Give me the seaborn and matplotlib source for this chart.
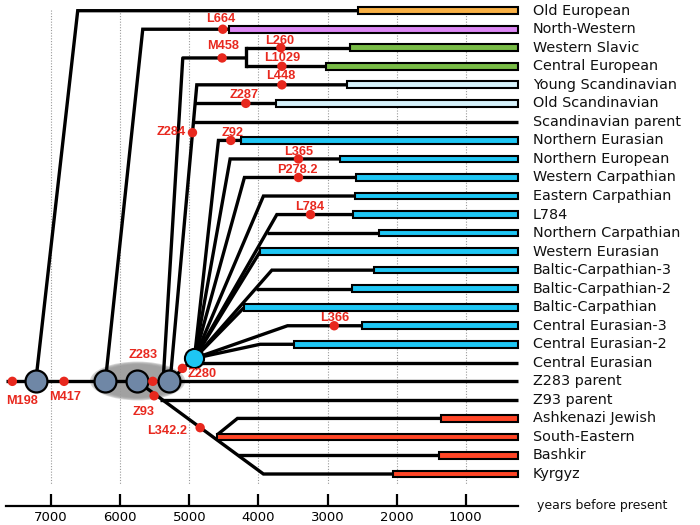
import matplotlib
matplotlib.use("Agg")
import matplotlib.pyplot as plt
from matplotlib.patches import Ellipse
import seaborn as sns
import pandas as pd

# ---------------- data ----------------
clades = ["Old European", "North-Western", "Western Slavic", "Central European",
          "Young Scandinavian", "Old Scandinavian", "Scandinavian parent",
          "Northern Eurasian", "Northern European", "Western Carpathian",
          "Eastern Carpathian", "L784", "Northern Carpathian", "Western Eurasian",
          "Baltic-Carpathian-3", "Baltic-Carpathian-2", "Baltic-Carpathian",
          "Central Eurasian-3", "Central Eurasian-2", "Central Eurasian",
          "Z283 parent", "Z93 parent", "Ashkenazi Jewish", "South-Eastern",
          "Bashkir", "Kyrgyz"]
# origin of each branch (year, row) -> kink year on its own row
branch_from_year = [7221, 6214, 4177, 4177, 5277, 4915, 4939,
                    4926, 4926, 4926, 4926, 4926, 3873, 4926,
                    4926, 4032, 4926, 4926, 4926, 4926,
                    7656, 5422, 4601, 4601, 4289, 5751]
branch_from_row = [20, 20, 2, 3, 20, 5, 6,
                   18.76, 18.76, 18.76, 18.76, 18.76, 12, 18.76,
                   18.76, 15, 18.76, 18.76, 18.76, 18.76,
                   20, 21, 22.9, 23, 24, 20]
branch_kink_year = [6614, 5673, 4177, 4177, 4891, 4915, 4939,
                    4578, 4409, 4202, 3927, 3733, 3873, 3975,
                    3805, 4032, 4202, 3579, 3975, 4926,
                    7656, 5422, 4303, 4601, 4289, 3927]
bar_start = [2560, 4419, 2672, 3019, 2720, 3747, None,
             4254, 2816, 2585, 2599, 2624, 2262, 3975,
             2324, 2647, 4202, 2502, 3492, None,
             None, None, 1354, 4601, 1383, 2053]
bar_colors = ["#f9b044", "#dd88f5", "#78bb46", "#78bb46", "#d6f2fb", "#d6f2fb", None,
              "#1ec6f4", "#1ec6f4", "#1ec6f4", "#1ec6f4", "#1ec6f4", "#1ec6f4", "#1ec6f4",
              "#1ec6f4", "#1ec6f4", "#1ec6f4", "#1ec6f4", "#1ec6f4", None,
              None, None, "#ff4526", "#ff4526", "#ff4526", "#ff4526"]
end_year = 244

# M458 clade connector (from node, to split)
m458_from = (5379, 20)
m458_to = (5094, 2.55)
m458_split_year = 4177
# link between Z283 node and Z280 node
z280_link = [(5292, 20), (4926, 18.76)]

# ancestral nodes
node_years = [7221, 6214, 5751, 5292]
node_rows = [20, 20, 20, 20]
z280_node = (4926, 18.76)

# mutations (red dots) and their labels
mut_names = ["M198", "M417", "Z283", "Z93", "Z280", "L342.2", "Z284", "L664",
             "M458", "L260", "L1029", "L448", "Z287", "Z92", "L365", "P278.2",
             "L784", "L366"]
mut_years = [7560, 6812, 5528, 5509, 5099, 4843, 4954, 4515,
             4525, 3675, 3660, 3660, 4182, 4399, 3420, 3420, 3246, 2903]
mut_rows = [20, 20, 20, 20.78, 19.3, 22.5, 6.58, 1,
            2.55, 2, 3, 4, 5, 7, 8, 9, 11, 17]
lab_years = [7413, 6797, 5673, 5657, 4818, 5027, 5050, 4543,
             4514, 3685, 3660, 3670, 4202, 4375, 3420, 3429, 3251, 2899]
lab_rows = [21.06, 20.83, 18.58, 21.64, 19.62, 22.68, 6.56, 0.46,
            1.89, 1.62, 2.57, 3.54, 4.55, 6.6, 7.64, 8.6, 10.61, 16.57]
lab_ha = ["center", "center", "center", "center", "center", "right", "right", "center",
          "center", "center", "center", "center", "center", "center", "center", "center",
          "center", "center"]

tick_years = [7000, 6000, 5000, 4000, 3000, 2000, 1000]
x_label = "years before present"

# ---------------- drawing ----------------
sns.set_theme(style="white")
plt.rcParams["font.family"] = ["DejaVu Sans"]

fig = plt.figure(figsize=(7, 5.25), dpi=100)
ax = fig.add_axes([5.7 / 700, 1 - 505.7 / 525, 512.3 / 700, 505.7 / 525])
ax.set_xlim(7656, end_year)
ax.set_ylim(26.71, -0.577)

LW = 2.4
RED = "#e8281e"

# gridlines
ax.vlines(tick_years, -0.05, 25.6, colors="#9a9a9a", linestyles=(0, (1, 1.5)),
          linewidth=0.8, zorder=1)

# shaded ellipse around the Z283 nodes
for k, sc in enumerate([1.08, 1.04, 1.0, 0.96, 0.92]):
    ax.add_patch(Ellipse((5748, 19.98), 1274 * sc, 1.94 * sc, facecolor="#9a9a9a",
                         edgecolor="none", alpha=0.4, zorder=1.5))

# branches
for i, name in enumerate(clades):
    xs = [branch_from_year[i], branch_kink_year[i], end_year]
    ys = [branch_from_row[i], i, i]
    ax.plot(xs, ys, color="black", lw=LW, solid_joinstyle="miter",
            solid_capstyle="butt", zorder=2, clip_on=False)

ax.plot([m458_from[0], m458_to[0], m458_split_year], [m458_from[1], m458_to[1], m458_to[1]],
        color="black", lw=LW, zorder=2)
ax.plot([m458_split_year, m458_split_year], [2, 3], color="black", lw=LW,
        solid_capstyle="projecting", zorder=2)
ax.plot([p[0] for p in z280_link], [p[1] for p in z280_link], color="black", lw=LW, zorder=2)

# bars
for i, (bs, col) in enumerate(zip(bar_start, bar_colors)):
    if bs is None:
        continue
    ax.barh(i, bs - end_year, left=end_year, height=0.36, color=col,
            edgecolor="black", linewidth=1.5, zorder=3, clip_on=False)

# nodes
nodes = pd.DataFrame({"year": node_years, "row": node_rows})
sns.scatterplot(data=nodes, x="year", y="row", s=250, color="#6f87a6",
                edgecolor="black", linewidth=1.6, zorder=4, ax=ax, legend=False)
ax.scatter([z280_node[0]], [z280_node[1]], s=190, color="#1ec6f4",
           edgecolor="black", linewidth=1.5, zorder=4)

# mutations
muts = pd.DataFrame({"year": mut_years, "row": mut_rows})
sns.scatterplot(data=muts, x="year", y="row", s=46, color=RED, edgecolor="none",
                linewidth=0, zorder=5, ax=ax, legend=False)
for n, lx, ly, ha in zip(mut_names, lab_years, lab_rows, lab_ha):
    ax.text(lx, ly, n, ha=ha, va="center", color=RED, fontsize=9.2,
            fontweight="bold", family=["Liberation Sans", "DejaVu Sans"], zorder=6)

# clade labels
for i, name in enumerate(clades):
    ax.text(33, i, name, ha="left", va="center", fontsize=10.4, color="#111111",
            clip_on=False)

ax.text(-35, 26.71, x_label, ha="left", va="center", fontsize=9, color="#111111",
        clip_on=False)

# axes styling
for s in ["top", "left", "right"]:
    ax.spines[s].set_visible(False)
ax.spines["bottom"].set_linewidth(1.6)
ax.spines["bottom"].set_color("black")
ax.set_xticks(tick_years)
ax.set_xticklabels([str(t) for t in tick_years])
ax.set_yticks([])
ax.tick_params(axis="x", direction="in", length=8.6, width=1.6, pad=4,
               labelsize=9.5, colors="black", bottom=True)
ax.set_xlabel("")
ax.set_ylabel("")
ax.grid(False)

fig.savefig("out.png", dpi=100)
